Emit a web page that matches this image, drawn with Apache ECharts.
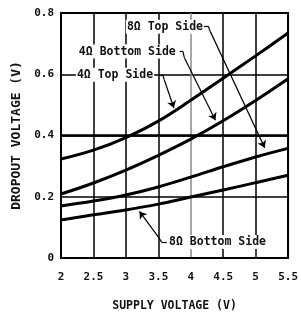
<!DOCTYPE html>
<html>
<head>
<meta charset="utf-8">
<script src="https://cdn.jsdelivr.net/npm/echarts@6/dist/echarts.min.js"></script>
<style>
  html, body { margin: 0; padding: 0; background: #fff; }
  #chart { width: 301px; height: 318px; }
</style>
</head>
<body>
<div id="chart"></div>
<script>
const supply = [2, 2.5, 3, 3.5, 4, 4.5, 5, 5.5]
const top4 = [0.323, 0.352, 0.393, 0.447, 0.515, 0.587, 0.66, 0.735]
const bottom4 = [0.209, 0.245, 0.287, 0.335, 0.388, 0.448, 0.514, 0.585]
const top8 = [0.17, 0.186, 0.206, 0.232, 0.264, 0.298, 0.33, 0.358]
const bottom8 = [0.124, 0.141, 0.157, 0.176, 0.199, 0.222, 0.246, 0.27]

// label text, anchor (left/middle of text) in data units
const labels = [
  { text: '8Ω Top Side', at: [3.0, 0.755] },
  { text: '4Ω Bottom Side', at: [2.26, 0.674] },
  { text: '4Ω Top Side', at: [2.23, 0.598] },
  { text: '8Ω Bottom Side', at: [3.65, 0.052] }
]
// leader lines: [from, to, arrow?]
const leaders = [
  [[4.18, 0.757], [4.27, 0.757], false],
  [[4.27, 0.757], [4.3, 0.74], false],
  [[4.3, 0.74], [5.14, 0.36], true],
  [[3.83, 0.674], [3.88, 0.674], false],
  [[3.88, 0.674], [3.9, 0.655], false],
  [[3.9, 0.655], [4.38, 0.45], true],
  [[3.53, 0.598], [3.57, 0.598], false],
  [[3.57, 0.598], [3.59, 0.583], false],
  [[3.59, 0.583], [3.74, 0.49], true],
  [[3.63, 0.052], [3.55, 0.052], false],
  [[3.55, 0.052], [3.51, 0.066], false],
  [[3.51, 0.066], [3.21, 0.152], true]
]

const font = 'DejaVu Sans Mono'
const chart = echarts.init(document.getElementById('chart'))

function curve(vals) {
  return {
    type: 'line',
    data: supply.map((x, i) => [x, vals[i]]),
    smooth: 0.4,
    symbol: 'none',
    z: 3,
    lineStyle: { color: '#000', width: 3 }
  }
}

const option = {
  animation: false,
  backgroundColor: '#fff',
  grid: {
    left: 61,
    right: 9,
    top: 13,
    bottom: 60,
    show: true,
    borderColor: '#000',
    borderWidth: 2
  },
  xAxis: {
    type: 'value',
    min: 2,
    max: 5.5,
    interval: 0.5,
    name: 'SUPPLY VOLTAGE (V)',
    nameLocation: 'middle',
    nameGap: 42,
    nameTextStyle: { fontFamily: font, fontWeight: 'bold', fontSize: 11.5, color: '#111' },
    axisLine: { lineStyle: { color: '#000', width: 2 } },
    axisTick: { show: false },
    axisLabel: { fontFamily: font, fontWeight: 'bold', fontSize: 11, color: '#111', margin: 14 },
    splitLine: {
      lineStyle: {
        color: ['#000', '#000', '#000', '#000', '#8a8a8a', '#000', '#000', '#000'],
        width: 1.5
      }
    }
  },
  yAxis: {
    type: 'value',
    min: 0,
    max: 0.8,
    interval: 0.2,
    name: 'DROPOUT VOLTAGE (V)',
    nameLocation: 'middle',
    nameGap: 35,
    nameTextStyle: { fontFamily: font, fontWeight: 'bold', fontSize: 13, color: '#111' },
    axisLine: { show: true, lineStyle: { color: '#000', width: 2 } },
    axisTick: { show: false },
    axisLabel: { fontFamily: font, fontWeight: 'bold', fontSize: 11, color: '#111', margin: 7 },
    splitLine: { lineStyle: { color: '#000', width: 1.5 } }
  },
  series: [
    curve(top4),
    curve(bottom4),
    curve(top8),
    curve(bottom8),
    {
      type: 'line',
      data: [],
      z: 1,
      markLine: {
        silent: true,
        symbol: 'none',
        label: { show: false },
        lineStyle: { color: '#000', width: 2.5, type: 'solid' },
        data: [{ yAxis: 0.4 }]
      }
    },
    {
      type: 'line',
      data: [],
      z: 4,
      markLine: {
        silent: true,
        symbolSize: 7,
        label: { show: false },
        lineStyle: { color: '#000', width: 1.2, type: 'solid' },
        data: leaders.map(([a, b, arrow]) => [
          { coord: a, symbol: 'none' },
          { coord: b, symbol: arrow ? 'arrow' : 'none' }
        ])
      },
      markPoint: {
        silent: true,
        symbol: 'rect',
        symbolSize: 0,
        data: labels.map(l => ({
          coord: l.at,
          label: {
            show: true,
            position: 'right',
            distance: 0,
            formatter: l.text,
            fontFamily: font,
            fontWeight: 'bold',
            fontSize: 11.5,
            color: '#111',
            backgroundColor: '#fff',
            padding: [1, 1]
          }
        }))
      }
    }
  ]
}

chart.setOption(option)
</script>
</body>
</html>
